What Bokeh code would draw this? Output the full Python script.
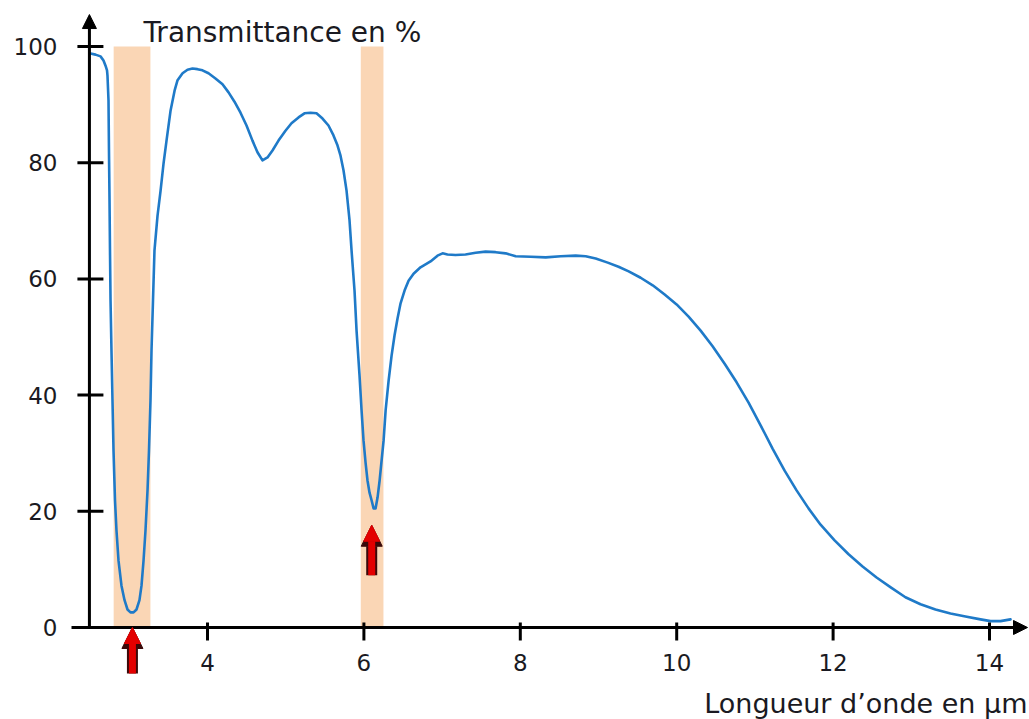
from bokeh.plotting import figure
from bokeh.models import Range1d, Arrow, NormalHead, ColumnDataSource, Label
from bokeh.core.properties import value
from bokeh.embed import file_html
from bokeh.resources import INLINE

# ---------------- data ----------------
wavelength = [2.504, 2.568, 2.632, 2.670, 2.696, 2.715, 2.721, 2.734, 2.740, 2.747,
              2.753, 2.760, 2.772, 2.785, 2.798, 2.817, 2.836, 2.862, 2.900, 2.939,
              2.977, 3.015, 3.054, 3.092, 3.130, 3.156, 3.182, 3.207, 3.233, 3.252,
              3.271, 3.284, 3.303, 3.322, 3.361, 3.400, 3.438, 3.476, 3.528, 3.579, 3.617,
              3.681, 3.744, 3.808, 3.872, 3.936, 4.013, 4.102, 4.192, 4.269, 4.345,
              4.422, 4.499, 4.575, 4.639, 4.703, 4.767, 4.831, 4.908, 4.997, 5.074,
              5.164, 5.240, 5.317, 5.394, 5.471, 5.547, 5.611, 5.662, 5.701, 5.739,
              5.778, 5.816, 5.842, 5.880, 5.906, 5.944, 5.970, 5.995, 6.021, 6.046,
              6.072, 6.098, 6.124, 6.149, 6.175, 6.201, 6.226, 6.252, 6.278, 6.316,
              6.354, 6.392, 6.430, 6.469, 6.520, 6.571, 6.635, 6.724, 6.852, 6.941,
              7.006, 7.069, 7.171, 7.299, 7.429, 7.556, 7.685, 7.813, 7.941, 8.133,
              8.325, 8.517, 8.708, 8.836, 8.964, 9.118, 9.256, 9.386, 9.539, 9.693,
              9.846, 9.999, 10.152, 10.306, 10.459, 10.613, 10.766, 10.919, 11.073, 11.226,
              11.380, 11.533, 11.686, 11.840, 12.019, 12.198, 12.377, 12.556, 12.737, 12.925,
              13.118, 13.309, 13.501, 13.693, 13.885, 14.013, 14.141, 14.269]
transmittance = [98.8, 98.6, 98.3, 97.6, 96.7, 95.9, 95.0, 90.7, 82.1, 73.5,
                 64.9, 56.3, 47.7, 39.1, 30.5, 21.9, 16.7, 11.5, 7.2, 4.7,
                 3.1, 2.6, 2.6, 3.1, 4.7, 7.2, 11.5, 16.7, 23.6, 30.5,
                 39.1, 47.7, 56.3, 64.9, 70.9, 75.2, 79.9, 83.8, 89.0, 92.4, 94.2,
                 95.4, 96.0, 96.2, 96.1, 95.9, 95.4, 94.5, 93.5, 92.1, 90.5,
                 88.6, 86.4, 83.8, 81.8, 80.4, 80.9, 82.1, 83.8, 85.5, 86.8,
                 87.8, 88.5, 88.6, 88.5, 87.6, 86.4, 84.7, 83.0, 81.2, 78.7,
                 75.2, 70.1, 64.9, 58.0, 51.1, 43.4, 37.4, 32.2, 28.4, 25.3,
                 23.2, 21.9, 20.5, 20.5, 22.4, 25.3, 28.7, 32.2, 37.4, 42.5,
                 46.8, 50.3, 53.2, 55.8, 58.0, 59.7, 60.9, 62.0, 63.0, 64.0,
                 64.4, 64.2, 64.1, 64.2, 64.5, 64.7, 64.6, 64.4, 63.9, 63.8,
                 63.7, 63.9, 64.0, 63.9, 63.5, 62.8, 62.1, 61.3, 60.2, 58.9,
                 57.3, 55.6, 53.5, 51.1, 48.4, 45.4, 42.2, 38.7, 34.8, 30.8,
                 27.0, 23.6, 20.5, 17.7, 15.0, 12.6, 10.5, 8.6, 6.9, 5.2,
                 4.0, 3.1, 2.4, 1.9, 1.4, 1.1, 1.1, 1.4]

band_left = [2.80, 5.96]
band_right = [3.27, 6.25]
band_top = [100, 100]

marker_x = [3.04, 6.10]
marker_tip = [0.0, 17.6]
marker_tail = [-7.9, 9.0]

x_ticks = [4, 6, 8, 10, 12, 14]
y_ticks = [0, 20, 40, 60, 80, 100]
x_title = "Longueur d\u2019onde en \u00b5m"
y_title = "Transmittance en %"

# ---------------- layout ----------------
W, H = 1029, 719
X0, X1 = 1.3529, 14.5115
Y0, Y1 = -15.835, 107.917
PXX = W / (X1 - X0)
PXY = H / (Y1 - Y0)
Y_AXIS_X = 2.49
X_AXIS_START = 2.261
X_AXIS_END = 14.486
Y_AXIS_END = 105.5
FONT = value("DejaVu Sans")
TXT = "#1a1a22"

p = figure(width=W, height=H, x_range=Range1d(X0, X1), y_range=Range1d(Y0, Y1),
           x_axis_location=None, y_axis_location=None, toolbar_location=None,
           output_backend="svg", min_border=0)
for g in p.grid:
    g.visible = False
p.outline_line_color = None
p.background_fill_color = "white"
p.border_fill_color = "white"

# absorption bands
p.quad(left=band_left, right=band_right, bottom=0, top=band_top,
       fill_color="#FAD6B5", line_color=None)

# spectrum
p.line(wavelength, transmittance, line_color="#1f7ac8", line_width=2.6,
       line_join="round", line_cap="round")

# axes with arrow heads
p.add_layout(Arrow(x_start=X_AXIS_START, y_start=0, x_end=X_AXIS_END, y_end=0,
                   line_width=3, line_color="black",
                   end=NormalHead(size=14, fill_color="black", line_color="black")))
p.add_layout(Arrow(x_start=Y_AXIS_X, y_start=0, x_end=Y_AXIS_X, y_end=Y_AXIS_END,
                   line_width=3, line_color="black",
                   end=NormalHead(size=14, fill_color="black", line_color="black")))

# tick marks
nx, ny = len(x_ticks), len(y_ticks)
p.segment(x0=x_ticks, y0=[5 / PXY] * nx, x1=x_ticks, y1=[-13 / PXY] * nx,
          line_width=3, line_color="black")
p.segment(x0=[Y_AXIS_X - 12 / PXX] * ny, y0=y_ticks, x1=[Y_AXIS_X + 14 / PXX] * ny, y1=y_ticks,
          line_width=3, line_color="black")

# tick labels
p.text(x=x_ticks, y=[0] * nx, text=[str(t) for t in x_ticks], text_align="center",
       text_baseline="middle", y_offset=35, text_font=FONT, text_font_size="23px",
       text_color=TXT)
p.text(x=[Y_AXIS_X] * ny, y=y_ticks, text=[str(t) for t in y_ticks], text_align="right",
       text_baseline="middle", x_offset=-32, text_font=FONT, text_font_size="23px",
       text_color=TXT)

# axis titles
p.add_layout(Label(x=3.18, y=102.4, text=y_title, text_align="left",
                   text_baseline="alphabetic", text_font="DejaVu Sans",
                   text_font_size="28px", text_color=TXT))
p.add_layout(Label(x=14.486, y=-13.0, text=x_title, text_align="right",
                   text_baseline="alphabetic", text_font="DejaVu Sans",
                   text_font_size="27px", text_color=TXT))

# red arrows marking the absorption bands
src = ColumnDataSource(dict(x=marker_x, y0=marker_tail, y1=marker_tip))
p.add_layout(Arrow(x_start="x", y_start="y0", x_end="x", y_end="y1", source=src,
                   line_width=11, line_color="#3a0a0a",
                   end=NormalHead(size=21, fill_color="#3a0a0a", line_color="#3a0a0a")))
p.add_layout(Arrow(x_start="x", y_start="y0", x_end="x", y_end="y1", source=src,
                   line_width=7, line_color="#e30000",
                   end=NormalHead(size=16, fill_color="#e30000", line_color="#e30000")))

open("out.html", "w").write(file_html(p, INLINE))
